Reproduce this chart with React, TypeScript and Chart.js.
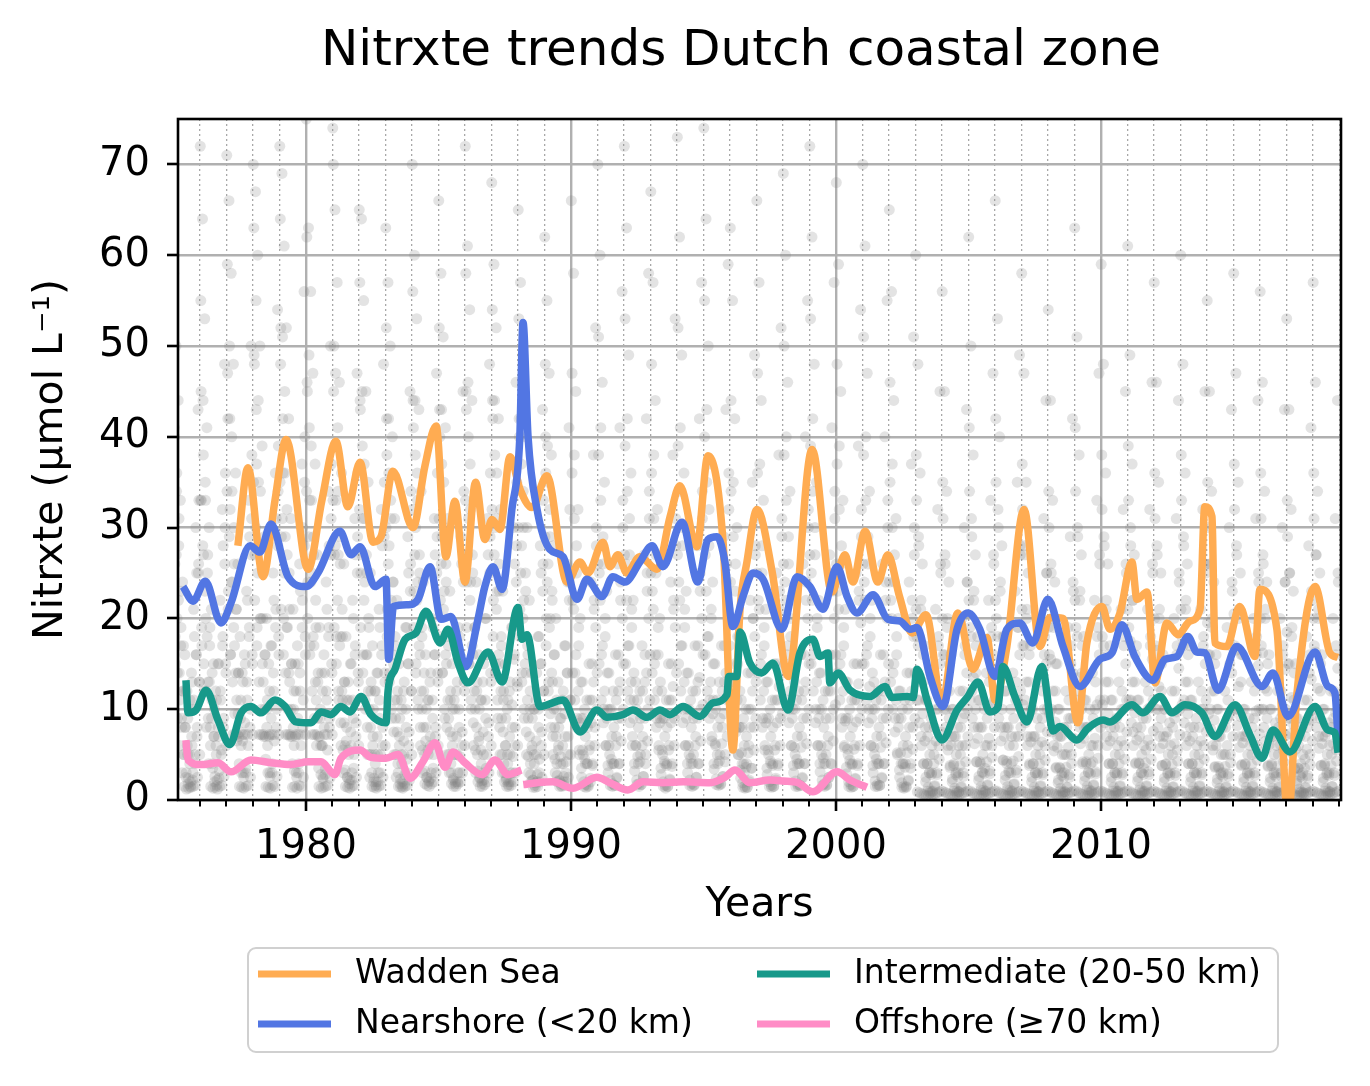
import React, { useEffect, useRef } from "react";
import { Chart, registerables } from "chart.js";

Chart.register(...registerables);

const FONT = "'DejaVu Sans', 'Liberation Sans', sans-serif";
const TITLE = "Nitrxte trends Dutch coastal zone";
const X_LABEL = "Years";
const Y_LABEL = "Nitrxte (µmol L⁻¹)";

const X_MIN = 1975.17;
const X_MAX = 2019.06;
const Y_MIN = 0;
const Y_MAX = 75;
const X_MAJOR_TICKS = [1980, 1990, 2000, 2010];
const X_MINOR_TICKS = [
  1976, 1977, 1978, 1979, 1980, 1981, 1982, 1983, 1984, 1985, 1986, 1987, 1988, 1989,
  1990, 1991, 1992, 1993, 1994, 1995, 1996, 1997, 1998, 1999, 2000, 2001, 2002, 2003,
  2004, 2005, 2006, 2007, 2008, 2009, 2010, 2011, 2012, 2013, 2014, 2015, 2016, 2017,
  2018, 2019,
];
const Y_TICKS = [0, 10, 20, 30, 40, 50, 60, 70];

const SERIES_LABELS = ["Wadden Sea", "Nearshore (<20 km)", "Intermediate (20-50 km)", "Offshore (≥70 km)"];
const SERIES_COLORS = ["#FFAC52", "#5276E3", "#17998A", "#FF8CC6"];

const WADDEN_YEARS = [
  1977.43, 1977.81, 1978.38, 1978.83, 1979.25, 1980.08, 1980.6, 1981.13, 1981.58, 1982.04,
  1982.53, 1982.83, 1983.28, 1984.04, 1984.49, 1984.91, 1985.28, 1985.62, 1986.0, 1986.4,
  1986.75, 1987.02, 1987.32, 1987.7, 1988.08, 1988.53, 1989.09, 1989.85, 1990.34, 1990.64,
  1991.21, 1991.47, 1991.77, 1992.11, 1992.6, 1993.25, 1993.74, 1994.11, 1994.75, 1995.17,
  1995.74, 1996.11, 1996.38, 1996.64, 1997.02, 1997.6, 1998.2, 1999.1, 1999.85, 2000.34,
  2000.64, 2001.1, 2001.58, 2001.96, 2002.4, 2002.87, 2003.4, 2004.0, 2004.6, 2005.17,
  2005.7, 2006.0, 2006.45, 2007.1, 2007.7, 2008.07, 2008.57, 2009.13, 2009.47, 2010.04,
  2010.34, 2010.72, 2011.17, 2011.36, 2011.74, 2012.04, 2012.49, 2012.91, 2013.36, 2013.74,
  2013.92, 2014.19, 2014.3, 2014.75, 2015.24, 2015.81, 2016.0, 2016.64, 2017.06, 2017.4,
  2018.08, 2018.64, 2018.94,
];
const WADDEN_VALUES = [
  28.0, 36.6, 24.6, 33.0, 39.7, 25.4, 33.0, 39.5, 32.3, 37.2,
  28.4, 29.0, 36.2, 30.0, 36.8, 41.2, 26.8, 32.9, 24.0, 35.0,
  28.7, 30.9, 29.8, 37.8, 34.2, 32.2, 35.7, 24.0, 26.2, 25.0,
  28.4, 25.7, 27.0, 25.0, 26.8, 25.4, 31.2, 34.6, 27.9, 37.9,
  28.4, 5.5, 21.0, 26.2, 32.0, 25.0, 13.6, 38.6, 22.9, 27.0,
  24.0, 29.6, 24.0, 27.0, 22.4, 18.4, 20.4, 10.7, 20.6, 14.4,
  17.9, 11.0, 16.9, 32.0, 16.9, 20.1, 20.0, 8.5, 17.3, 21.3,
  18.8, 20.6, 26.2, 22.1, 22.9, 12.9, 19.5, 18.2, 19.7, 21.0,
  32.3, 31.2, 17.3, 16.9, 21.3, 15.8, 23.2, 18.8, -2.0, 11.8,
  23.5, 16.2, 15.7,
];

const NEARSHORE_YEARS = [
  1975.36, 1975.74, 1976.2, 1976.79, 1977.17, 1977.89, 1978.26, 1978.68, 1979.32, 1980.0,
  1980.45, 1981.28, 1981.7, 1982.04, 1982.6, 1983.02, 1983.12, 1983.3, 1983.85, 1984.23,
  1984.68, 1985.1, 1985.47, 1986.04, 1986.49, 1986.75, 1987.06, 1987.4, 1987.77, 1988.07,
  1988.19, 1988.38, 1988.72, 1989.2, 1989.7, 1990.23, 1990.6, 1991.17, 1991.58, 1992.04,
  1992.6, 1993.06, 1993.47, 1994.19, 1994.79, 1995.17, 1995.51, 1995.81, 1996.11, 1996.49,
  1996.87, 1997.25, 1997.96, 1998.53, 1999.02, 1999.51, 2000.04, 2000.42, 2000.79, 2001.4,
  2001.96, 2002.42, 2002.79, 2003.06, 2003.55, 2004.04, 2004.57, 2004.98, 2005.43, 2006.0,
  2006.45, 2006.94, 2007.43, 2008.0, 2008.57, 2009.21, 2009.96, 2010.42, 2010.79, 2011.28,
  2011.96, 2012.42, 2012.87, 2013.28, 2013.62, 2013.92, 2014.42, 2015.13, 2016.08, 2016.49,
  2017.06, 2018.08, 2018.57, 2018.83, 2018.95,
];
const NEARSHORE_VALUES = [
  23.5, 21.9, 24.1, 19.5, 21.7, 28.0, 27.3, 30.4, 24.6, 23.5,
  25.0, 29.6, 27.0, 27.9, 23.5, 24.3, 15.5, 21.3, 21.5, 22.1,
  25.7, 19.9, 20.2, 14.7, 19.9, 23.5, 25.7, 23.2, 32.0, 40.0,
  52.6, 40.0, 32.0, 27.6, 26.8, 22.1, 24.3, 22.4, 24.6, 24.0,
  26.2, 28.0, 25.7, 30.6, 24.0, 28.7, 29.0, 26.2, 19.1, 22.4,
  25.0, 24.3, 18.8, 24.6, 23.5, 21.0, 25.7, 22.4, 20.6, 22.6,
  19.9, 19.7, 18.8, 19.0, 13.6, 10.3, 18.8, 20.6, 18.8, 13.6,
  18.8, 19.5, 17.3, 22.1, 16.9, 12.5, 15.5, 16.2, 19.3, 15.8,
  13.2, 15.5, 15.8, 18.0, 16.3, 16.2, 12.1, 16.9, 12.5, 14.0,
  9.2, 16.3, 12.5, 11.8, 6.6,
];

const INTERMEDIATE_YEARS = [
  1975.47, 1975.55, 1975.85, 1976.23, 1976.68, 1977.13, 1977.55, 1977.92, 1978.3, 1978.83,
  1979.21, 1979.62, 1980.19, 1980.57, 1980.94, 1981.32, 1981.66, 1982.08, 1982.45, 1983.02,
  1983.1, 1983.36, 1983.74, 1984.15, 1984.53, 1985.06, 1985.36, 1985.74, 1986.11, 1986.87,
  1987.4, 1988.0, 1988.15, 1988.34, 1988.83, 1989.7, 1990.34, 1990.98, 1991.36, 1991.96,
  1992.34, 1992.87, 1993.36, 1993.74, 1994.23, 1994.87, 1995.36, 1995.89, 1995.95, 1996.26,
  1996.38, 1996.75, 1997.2, 1997.62, 1998.19, 1998.64, 1999.13, 1999.4, 1999.7, 1999.77,
  2000.08, 2000.53, 2001.28, 2001.85, 2002.11, 2002.68, 2002.91, 2003.06, 2003.47, 2004.0,
  2004.57, 2004.98, 2005.36, 2005.81, 2006.11, 2006.3, 2006.75, 2007.21, 2007.77, 2008.2,
  2008.45, 2009.09, 2009.51, 2010.08, 2010.34, 2011.17, 2011.58, 2012.23, 2012.68, 2013.17,
  2013.81, 2014.3, 2015.06, 2015.62, 2016.08, 2016.49, 2017.13, 2018.08, 2018.57, 2018.83,
  2018.95,
];
const INTERMEDIATE_VALUES = [
  13.2, 9.6, 9.9, 12.1, 8.8, 6.1, 9.6, 10.3, 9.6, 11.0,
  10.3, 8.6, 8.5, 9.7, 9.4, 10.3, 9.7, 11.4, 9.4, 8.5,
  12.1, 14.4, 17.7, 18.4, 20.8, 17.3, 18.8, 15.1, 12.9, 16.3,
  13.0, 21.2, 17.7, 18.2, 10.3, 11.0, 7.5, 9.9, 9.1, 9.4,
  9.9, 9.1, 9.9, 9.4, 10.3, 9.2, 10.7, 11.6, 13.6, 13.6,
  18.5, 15.1, 14.0, 15.1, 9.9, 16.2, 17.7, 15.8, 16.2, 12.9,
  14.0, 12.1, 11.4, 12.5, 11.3, 11.4, 11.3, 14.4, 10.7, 6.6,
  9.9, 11.4, 13.0, 9.7, 10.2, 14.7, 11.4, 8.6, 14.7, 7.6,
  8.1, 6.6, 7.9, 8.8, 8.6, 10.5, 9.6, 11.4, 9.6, 10.5,
  9.6, 7.0, 10.5, 7.2, 4.6, 7.7, 5.3, 10.3, 7.7, 7.4,
  5.2,
];

const OFFSHORE_YEARS = [
  1975.47, 1975.55, 1976.04, 1976.68, 1977.17, 1977.92, 1978.68, 1979.43, 1980.08, 1980.57,
  1981.09, 1981.32, 1982.04, 1982.45, 1983.02, 1983.47, 1983.93, 1984.41, 1984.87, 1985.25,
  1985.55, 1986.0, 1986.64, 1987.13, 1987.62, 1988.13, 1988.16, 1988.2, 1988.72, 1989.32,
  1990.08, 1990.98, 1991.47, 1992.15, 1992.72, 1993.47, 1994.23, 1995.25, 1995.81, 1996.19,
  1996.75, 1997.51, 1998.0, 1998.57, 1999.13, 2000.04, 2000.53, 2001.17,
];
const OFFSHORE_VALUES = [
  6.6, 4.4, 3.9, 4.1, 3.1, 4.4, 4.1, 3.9, 4.2, 4.2,
  2.8, 4.6, 5.5, 4.7, 4.6, 5.0, 2.4, 4.2, 6.3, 3.6,
  5.3, 4.1, 2.8, 4.4, 2.8, 3.3, null, 1.7, 1.9, 2.0,
  1.3, 2.5, 1.9, 1.1, 2.0, 1.9, 2.0, 1.9, 2.5, 3.3,
  1.9, 2.2, 2.1, 1.9, 0.9, 3.1, 2.2, 1.4,
];

// Individual observations, listed per year in sampling order (January first)
const SCATTER_YEARS = [
  1975, 1976, 1977, 1978, 1979, 1980, 1981, 1982, 1983, 1984, 1985, 1986, 1987, 1988, 1989,
  1990, 1991, 1992, 1993, 1994, 1995, 1996, 1997, 1998, 1999, 2000, 2001, 2002,
  2003, 2004, 2005, 2006, 2007, 2008, 2009, 2010, 2011, 2012, 2013, 2014, 2015, 2016, 2017, 2018,
];
const SCATTER_VALUES = [
  "58 41 26 15 50 34 20 9 44 28 14 6 33 19 9 3 24 12 5 1.5 16 8 2.5 1.2 12 5 1.8 1.3 10 4 1.5 1.4 14 6 2.2 1.5 21 10 4 1.6 30 16 7 2.5 43 26 13 5",
  "72 55 33 17 64 44 27 12 53 35 20 8 41 25 13 4 30 17 8 1.5 21 11 4 1.3 15 7 2 1.4 12 5 1.6 1.2 15 7 2.4 1.5 22 11 5 1.6 32 18 8 2.6 48 30 15 6",
  "71 59 42 23 66 50 32 16 58 40 24 7.2 48 30 17 7.2 36 21 11 7.2 26 14 7 1.5 18 9 6 1.4 14 7.2 3 1.3 16 7.2 3 1.5 23 11 7.2 1.6 33 19 8 2.5 50 31 16 7.2",
  "70 63 48 27 67 55 37 19 60 44 28 7.2 50 34 20 7.2 39 25 13 7.2 29 16 7 1.5 20 10 6 1.4 15 7.2 3 1.3 17 7.2 3 1.6 25 12 7.2 1.5 36 21 8 2.6 54 34 18 7.2",
  "72 64 52 29 69 51 36 20 61 45 29 7.2 52 32 19 7.2 42 25 13 7.2 31 15 7 1.4 21 10 6 1.5 15 7.2 3 1.3 17 7.2 3 1.6 26 12 7.2 1.5 37 22 8 2.5 56 35 18 7.2",
  "75 62 45 24 63 49 33 17 56 39 25 7.2 47 29 17 7.2 37 22 11 7.2 27 13 7 1.5 19 9 6 1.3 14 6 2.5 1.4 16 7.2 2.8 1.5 24 11 7.2 1.6 34 19 8 2.4 50 31 15 7.2",
  "74 70 50 27 65 47 33 18 57 41 27 11 46 29 18 6 36 21 11 3 26 13 6 1.5 18 8 2.5 1.4 13 5 1.8 1.3 15 6 2.2 1.5 22 9 3.5 1.6 31 17 7 2.5 47 29 14 6",
  "65 57 43 25 64 45 31 16 55 37 24 10 45 27 16 5 35 20 10 2.5 25 12 5 1.5 17 7 2 1.4 12 4 1.6 1.3 14 5 2 1.5 21 9 3 1.6 32 17 6 2.5 48 29 14 6",
  "63 52 38 21 57 42 28 14 50 33 22 9 40 24 15 5 31 18 9 2.5 22 11 4 1.5 15 7 1.8 1.4 11 4 1.5 1.3 12 5 1.8 1.5 19 8 3 1.6 29 15 6 2.2 45 26 12 5",
  "70 56 41 23 60 44 30 15 53 36 24 10 43 27 16 6 34 19 10 3 24 12 5 1.8 16 8 2.5 1.6 11 5 2 1.5 13 6 2.4 1.8 20 9 3.5 2 31 16 7 3 47 29 14 6",
  "66 52 40 22 58 43 29 14 51 35 23 9 41 26 15 5 31 18 9 3 23 11 4 1.8 15 7 2.2 1.5 11 5 1.8 1.5 12 5 2 1.8 19 8 3 2 29 15 6 3 45 27 13 6",
  "72 58 43 24 61 46 31 15 54 37 24 10 44 27 16 6 33 19 10 3 24 12 5 2 16 7 2.4 1.5 11 4 1.8 1.5 13 5 2.2 1.7 20 9 3.5 2 31 16 7 3 48 29 14 6",
  "68 54 42 22 59 44 30 15 52 36 23 9 42 26 15 5 32 18 9 3 23 11 4 2 15 6 2.2 1.5 10 4 1.7 1.5 12 5 2 1.6 19 8 3 2 30 16 6 3 46 28 13 6",
  "65 53 40 21 57 42 28 14 49 34 22 9 40 25 14 5 30 17 9 3 22 10 4 2 14 6 2.2 1.4 10 4 1.6 1.4 11 5 2 1.5 18 8 3 2 28 15 6 2.5 43 26 12 5",
  "62 48 36 20 55 39 26 13 47 32 20 8 38 23 13 5 28 16 8 3 20 10 4 2 13 6 2.2 1.5 9 4 1.6 1.5 11 4 2 1.6 17 7 3 2 26 14 5 2.5 41 24 11 5",
  "66 47 22 58 38 14 45 28 9 32 17 5 20 9 2.5 13 5 1.5 10 4 1.4 11 4 1.5 15 6 2 24 11 4 38 22 8 52 30 14",
  "70 51 25 60 41 16 46 29 10 35 18 6 23 10 3 14 5 1.6 10 4 1.5 12 4 1.6 16 7 2.4 26 12 4 41 24 9 56 33 15",
  "72 53 26 63 42 17 49 31 11 36 19 7 22 11 3.2 13 6 1.7 11 4 1.5 12 5 1.7 17 7 2.6 27 13 5 42 25 10 58 34 16",
  "67 48 23 57 38 15 44 27 9 32 16 6 20 9 2.8 12 5 1.5 9 4 1.3 11 4 1.5 15 6 2.2 24 11 4 38 22 9 53 31 14",
  "73 52 24 62 41 17 49 30 10 36 19 6 23 10 3 14 5 1.6 11 4 1.5 12 5 1.7 17 7 2.5 28 13 4 42 25 10 57 34 16",
  "74 55 27 64 43 18 50 32 11 37 20 7 24 11 3.4 15 6 1.7 11 4 1.6 13 5 1.8 17 8 2.6 29 13 5 43 26 11 59 36 17",
  "63 44 20 55 35 13 42 26 8 30 15 5 18 8 2.4 11 4 1.4 9 3 1.3 10 4 1.4 14 6 2 22 10 3.5 35 20 8 49 28 13",
  "66 47 22 57 37 15 44 28 9 33 17 6 21 9 2.8 13 5 1.5 10 4 1.4 11 4 1.5 15 6 2.2 25 11 4 38 23 9 52 31 14",
  "69 50 24 60 40 16 46 29 10 34 18 6 22 10 3 13 5 1.5 11 4 1.5 12 4 1.6 16 7 2.4 26 12 4 40 24 9 55 32 15",
  "72 53 25 62 42 16 48 30 10 35 19 6 22 10 3.1 14 5 1.6 11 4 1.5 12 5 1.7 16 7 2.5 27 12 4 41 25 10 57 34 16",
  "68 48 23 59 39 15 45 28 9 33 17 6 21 9 2.9 13 5 1.5 10 4 1.4 11 4 1.5 15 6 2.3 25 11 4 39 23 9 54 32 15",
  "70 51 24 61 40 16 47 29 10 34 18 6 22 10 3 13 5 1.5 11 4 1.5 12 4 1.6 16 7 2.4 26 12 4 40 24 9 55 33 15",
  "65 46 22 56 37 14 44 27 9 31 16 5 20 9 2.5 12 4 1.4 10 4 1.3 11 4 1.5 14 6 2.1 24 11 4 37 22 8 51 30 14",
  "60 38 18 0.9 48 29 11 0.8 36 21 7 0.7 26 13 4 0.6 17 8 2 0.5 11 4 1 0.5 8 3 0.8 0.5 9 3 0.9 0.6 13 5 1.5 0.7 21 10 3 0.8 32 17 6 0.9 45 26 11 1",
  "56 35 16 0.9 45 27 10 0.8 34 19 6 0.7 24 12 3.6 0.6 16 7 2 0.5 10 4 1 0.5 7 3 0.8 0.5 8 3 0.9 0.6 12 5 1.4 0.7 20 9 3 0.8 30 16 6 0.9 43 24 10 1",
  "62 41 19 1 50 31 12 0.8 38 22 8 0.7 27 14 4.2 0.6 18 8 2.2 0.5 11 4 1.1 0.5 8 3 0.8 0.5 10 3.5 0.9 0.6 14 6 1.6 0.7 22 10 3.2 0.8 33 18 6 0.9 47 27 11 1",
  "66 42 20 1 53 32 12 0.8 40 23 8 0.7 28 14 4.4 0.6 18 8 2.2 0.5 12 4 1.1 0.5 8 3 0.8 0.5 10 4 0.9 0.6 14 6 1.7 0.7 23 11 3.3 0.8 35 19 7 0.9 49 28 12 1",
  "58 37 17 0.9 47 28 11 0.8 35 20 7 0.7 25 13 3.8 0.6 17 7 2 0.5 10 4 1 0.5 7 3 0.8 0.5 9 3 0.9 0.6 13 5 1.5 0.7 20 9 3 0.8 31 16 6 0.9 44 25 10 1",
  "54 34 16 0.9 44 26 10 0.8 33 19 6 0.7 24 12 3.5 0.6 15 7 1.9 0.5 10 3.5 1 0.5 7 3 0.8 0.5 8 3 0.9 0.6 12 5 1.4 0.7 19 9 2.8 0.8 29 15 5 0.9 42 24 9 1",
  "63 41 19 1 51 30 12 0.8 38 22 8 0.7 27 14 4 0.6 18 8 2.1 0.5 11 4 1.1 0.5 8 3 0.8 0.5 10 4 0.9 0.6 14 6 1.6 0.7 22 10 3.1 0.8 33 18 6 0.9 47 27 11 1",
  "59 38 18 0.9 48 29 11 0.8 36 21 7 0.7 26 13 4 0.6 17 8 2 0.5 11 4 1 0.5 8 3 0.8 0.5 9 3 0.9 0.6 13 5 1.5 0.7 21 10 3 0.8 32 17 6 0.9 45 26 11 1",
  "61 39 19 1 49 30 11 0.8 37 22 7.5 0.7 27 13 4 0.6 17 8 2.1 0.5 11 4 1.1 0.5 8 3 0.8 0.5 9 3.5 0.9 0.6 13 5.5 1.5 0.7 21 10 3.1 0.8 32 17 6 0.9 46 26 11 1",
  "57 36 17 0.9 46 28 10 0.8 35 20 7 0.7 25 12 3.8 0.6 16 7 2 0.5 10 4 1 0.5 7.5 3 0.8 0.5 8.5 3 0.9 0.6 12 5 1.4 0.7 20 9 3 0.8 31 16 5.5 0.9 44 25 10 1",
  "60 38 18 1 48 29 11 0.8 36 21 7 0.7 26 13 4 0.6 17 8 2 0.5 11 4 1 0.5 8 3 0.8 0.5 9 3 0.9 0.6 13 5 1.5 0.7 21 10 3 0.8 32 17 6 0.9 45 26 11 1",
  "55 35 16 0.9 45 26 10 0.8 34 19 6 0.7 24 12 3.6 0.6 16 7 1.9 0.5 10 3.5 1 0.5 7 3 0.8 0.5 8 3 0.9 0.6 12 5 1.4 0.7 19 9 2.9 0.8 30 15 5 0.9 43 24 10 1",
  "58 37 17 0.9 47 28 10 0.8 35 20 7 0.7 25 13 3.8 0.6 16 7 2 0.5 10 4 1 0.5 7.5 3 0.8 0.5 9 3 0.9 0.6 13 5 1.5 0.7 20 9 3 0.8 31 16 6 0.9 44 25 10 1",
  "56 36 17 0.9 46 27 10 0.8 34 20 6.5 0.7 24 12 3.7 0.6 16 7 2 0.5 10 4 1 0.5 7 3 0.8 0.5 8.5 3 0.9 0.6 12 5 1.4 0.7 20 9 3 0.8 30 16 5.5 0.9 43 24 10 1",
  "53 33 15 0.9 43 25 9 0.8 32 18 6 0.7 23 11 3.4 0.6 15 6.5 1.8 0.5 9 3.5 0.9 0.5 7 2.8 0.8 0.5 8 3 0.8 0.6 11 4.5 1.3 0.7 18 8 2.7 0.8 28 14 5 0.9 41 23 9 1",
  "57 36 17 0.9 46 27 10 0.8 34 20 7 0.7 25 12 3.8 0.6 16 7 2 0.5 10 4 1 0.5 7.5 3 0.8 0.5 8.5 3 0.9 0.6 12 5 1.5 0.7 20 9 3 0.8 31 16 5.5 0.9 44 25 10 1",
];
// A second, mid-range station set (one value per month, January first)
const SCATTER_EXTRA_VALUES = [
  "40 36 31 23 17 12 9 11 13 18 25 33",
  "45 38 33 27 19 14 10 11 15 20 28 36",
  "47 42 34 26 21 14 11 13 15 22 29 38",
  "49 43 35 28 20 16 11 12 17 22 31 39",
  "48 42 36 27 21 15 12 12 15 23 30 40",
  "46 41 33 27 19 14 10 12 14 21 28 37",
  "45 39 34 26 18 13 11 11 15 20 27 36",
  "44 39 31 25 19 13 10 12 14 19 28 35",
  "42 36 31 24 17 12 9 10 13 19 25 34",
  "44 38 33 25 18 14 10 11 14 19 27 36",
  "43 37 30 24 17 12 10 10 13 18 26 34",
  "45 40 32 25 19 13 10 11 15 20 27 36",
  "44 38 31 23 17 12 9 11 13 19 26 35",
  "42 37 30 23 16 12 9 10 14 18 25 33",
  "40 35 29 22 16 11 8 9 12 17 24 32",
  "36 31 25 19 13 9 7 8 11 15 21 28",
  "38 33 26 20 14 10 7 8 11 16 22 30",
  "39 34 27 21 14 10 8 9 12 16 23 31",
  "36 31 25 19 13 9 7 8 11 15 21 28",
  "39 34 28 21 14 10 8 9 12 17 23 31",
  "40 35 28 21 15 10 8 9 12 17 24 32",
  "34 29 23 18 12 8 6 7 10 14 20 27",
  "36 31 25 19 13 9 7 8 11 15 21 29",
  "38 33 26 20 14 10 7 8 11 16 22 30",
  "39 34 27 20 14 10 8 9 12 16 23 31",
  "37 32 26 19 13 9 7 8 11 15 22 29",
  "38 33 26 20 14 10 7 8 11 16 22 30",
  "35 30 24 18 12 9 6 7 10 14 20 27",
  "33 28 22 16 11 7 5 6 8 12 18 25",
  "31 26 20 15 10 7 5 6 8 12 17 24",
  "34 29 23 17 11 8 5 6 9 13 19 26",
  "35 30 24 18 12 8 6 7 9 13 19 27",
  "32 27 21 16 10 7 5 6 8 12 18 25",
  "30 25 20 15 10 7 5 5 8 11 17 23",
  "34 29 23 17 11 8 5 6 9 13 19 26",
  "32 28 22 16 11 7 5 6 8 12 18 25",
  "33 28 22 16 11 7 5 6 9 12 18 25",
  "31 27 21 15 10 7 5 6 8 12 17 24",
  "33 28 22 16 11 7 5 6 8 12 18 25",
  "30 26 20 15 10 7 5 5 8 11 17 23",
  "32 27 21 16 10 7 5 6 8 12 18 24",
  "31 26 21 15 10 7 5 6 8 12 17 24",
  "29 25 19 14 9 6 4 5 7 11 16 22",
  "31 27 21 15 10 7 5 6 8 12 17 24",
];
// A third, coastal low-range station set (two values per month, January first)
const SCATTER_LOW_VALUES = [
  "31 18 27 14 22 11 17 8 12 5 8 3 6 2.4 5 2 7 3 11 5 16 8 25 13",
  "33 19 28 15 23 12 18 9 13 6 9 3.5 7 2.6 6 2.2 8 3.2 12 5.5 17 9 26 14",
  "34 21 29 16 24 13 19 9.5 14 6.5 9.5 4 7.5 3 6.5 2.5 8.5 3.5 13 6 18 10 27 15",
  "35 22 30 17 25 13 20 10 15 7 10 4.5 8 3 7 2.6 9 4 14 6.5 19 10 28 16",
  "35 21 31 16 25 14 19 10 14 7 10 4 8 3.2 7 2.5 9 4 14 6 19 11 28 16",
  "34 20 29 16 24 12 18 9 13 6 9 3.5 7 2.8 6 2.3 8 3.4 12 5.5 18 9 27 14",
  "33 19 28 15 22 12 17 8.5 12 5.5 8.5 3.3 6.5 2.5 5.5 2.2 7.5 3 11 5 16 8.5 25 13",
  "32 19 27 14 22 11 16 8 12 5 8 3 6 2.4 5 2 7 3 11 5 16 8 24 13",
  "30 18 26 13 21 10 16 7.5 11 5 7.5 3 6 2.3 5 2 6.5 2.8 10 4.5 15 7.5 23 12",
  "32 19 27 14 22 11 17 8 12 5.5 8 3.2 6.5 2.5 5.5 2.1 7 3 11 5 16 8 25 13",
  "31 18 26 14 21 10 16 8 11 5 7.5 3 6 2.4 5 2 7 3 10 4.8 15 7.5 24 12",
  "33 19 27 15 22 11 17 8.5 12 5.5 8 3.2 6.5 2.5 5.5 2.1 7.5 3 11 5 16 8.5 25 13",
  "32 18 27 14 21 11 16 8 12 5 7.5 3 6 2.4 5 2 7 3 10.5 4.8 15.5 8 24 12.5",
  "30 18 25 13 20 10 15 7.5 11 4.8 7 2.8 5.5 2.2 5 1.9 6.5 2.8 10 4.5 15 7.5 23 12",
  "29 17 24 12 19 9.5 14 7 10 4.5 7 2.7 5.5 2.1 4.8 1.8 6 2.6 9.5 4.2 14 7 22 11",
  "25 14 21 11 16 8 12 5.5 8.5 3.5 5.5 2 4.5 1.7 4 1.6 5.5 2.4 8.5 3.8 13 6 19 10",
  "26 15 22 11 17 8.5 12 6 9 3.8 6 2.2 4.5 1.8 4 1.6 6 2.5 9 4 13 6.5 20 10",
  "27 15 22 12 17 8.5 13 6 9 4 6 2.2 4.8 1.8 4.2 1.7 6 2.6 9 4 14 6.5 20 11",
  "25 14 21 11 16 8 12 5.5 8.5 3.5 5.5 2 4.3 1.6 3.8 1.5 5.5 2.3 8.5 3.7 12.5 6 19 9.5",
  "27 15 22 12 17 8.5 13 6 9 4 6 2.2 4.6 1.8 4 1.6 6 2.5 9 4 13.5 6.5 20 10.5",
  "28 16 23 12 18 9 13 6.5 9.5 4 6.2 2.3 5 1.9 4.3 1.7 6.2 2.6 9.5 4.2 14 7 21 11",
  "24 13 20 10 15 7.5 11 5 8 3.3 5.2 1.9 4 1.5 3.6 1.4 5.2 2.2 8 3.5 12 5.5 18 9",
  "25 14 21 11 16 8 12 5.5 8.5 3.5 5.5 2 4.3 1.6 3.8 1.5 5.5 2.4 8.5 3.8 12.5 6 19 9.5",
  "26 15 22 11 17 8.5 12 6 9 3.8 5.8 2.1 4.5 1.7 4 1.6 5.8 2.5 9 4 13 6.2 20 10",
  "27 15 22 12 17 8.5 13 6 9 4 6 2.2 4.6 1.8 4 1.6 6 2.5 9 4 13.5 6.5 20 10.5",
  "26 14 21 11 16 8 12 5.8 8.7 3.6 5.6 2 4.4 1.7 3.9 1.5 5.6 2.4 8.6 3.8 12.8 6 19.5 10",
  "26 15 22 11 17 8.5 12.5 6 9 3.8 5.8 2.1 4.5 1.7 4 1.6 5.8 2.5 9 4 13 6.3 20 10",
  "24 13 20 10 15 7.5 11 5.2 8 3.3 5.2 1.9 4 1.5 3.6 1.4 5.2 2.2 8 3.5 12 5.6 18 9",
  "21 11 17 8.5 13 6 9.5 4 6.5 2.5 4 1.4 3 1 2.8 1 4 1.6 6.5 2.8 10 4.5 15 7.5",
  "20 10 16 8 12 5.5 9 3.8 6 2.3 3.8 1.3 2.8 1 2.6 0.9 3.8 1.5 6 2.6 9.5 4.2 14 7",
  "22 11 18 9 13.5 6.2 10 4.2 6.8 2.6 4.2 1.5 3.1 1.1 2.9 1 4.2 1.7 6.8 2.9 10.5 4.7 16 8",
  "22 12 18 9 14 6.5 10 4.4 7 2.7 4.3 1.5 3.2 1.1 3 1 4.3 1.8 7 3 11 4.8 16 8",
  "21 10.5 17 8.5 13 6 9.5 4 6.4 2.5 4 1.4 3 1 2.8 0.9 4 1.6 6.4 2.8 10 4.4 15 7.5",
  "19 9.5 15.5 7.5 12 5.4 8.6 3.6 5.8 2.2 3.6 1.3 2.7 0.9 2.5 0.9 3.6 1.4 5.8 2.5 9 4 14 6.8",
  "22 11 18 9 13.5 6.2 10 4.2 6.8 2.6 4.2 1.5 3.1 1.1 2.9 1 4.2 1.7 6.8 2.9 10.5 4.6 16 8",
  "21 10.5 17 8.5 13 6 9.5 4 6.5 2.5 4 1.4 3 1 2.8 1 4 1.6 6.5 2.8 10 4.5 15 7.5",
  "21 11 17.5 8.5 13 6 9.6 4.1 6.6 2.5 4.1 1.4 3 1 2.8 1 4.1 1.6 6.6 2.8 10.2 4.5 15.5 7.6",
  "20 10 16.5 8 12.5 5.7 9 3.8 6.2 2.4 3.9 1.3 2.9 1 2.7 0.9 3.9 1.5 6.2 2.7 9.7 4.3 14.5 7.2",
  "21 10.5 17 8.5 13 6 9.5 4 6.5 2.5 4 1.4 3 1 2.8 1 4 1.6 6.5 2.8 10 4.5 15 7.5",
  "19.5 9.5 16 7.8 12 5.5 8.8 3.7 6 2.3 3.7 1.3 2.8 0.9 2.6 0.9 3.7 1.5 6 2.6 9.3 4.1 14 7",
  "20.5 10 16.5 8.2 12.5 5.8 9.2 3.9 6.3 2.4 3.9 1.4 2.9 1 2.7 0.9 3.9 1.6 6.3 2.7 9.8 4.4 14.8 7.3",
  "20 10 16.2 8 12.3 5.6 9 3.8 6.1 2.4 3.8 1.3 2.8 1 2.6 0.9 3.8 1.5 6.1 2.6 9.5 4.2 14.4 7.1",
  "18.5 9 15 7.3 11.3 5.1 8.3 3.5 5.6 2.1 3.5 1.2 2.6 0.9 2.4 0.8 3.5 1.4 5.6 2.4 8.8 3.9 13.3 6.5",
  "20 10 16.3 8 12.3 5.7 9 3.8 6.2 2.4 3.8 1.3 2.8 1 2.7 0.9 3.8 1.5 6.2 2.7 9.6 4.3 14.5 7.2",
];

function toPoints(xs: number[], ys: (number | null)[]) {
  return xs.map((x, i) => ({ x, y: ys[i] }));
}

function buildScatter() {
  const pts: { x: number; y: number }[] = [];
  [SCATTER_VALUES, SCATTER_EXTRA_VALUES, SCATTER_LOW_VALUES].forEach((table) => {
    SCATTER_YEARS.forEach((yr, k) => {
      const vals = table[k].trim().split(/\s+/).map(Number);
      vals.forEach((v, i) => pts.push({ x: yr + (i + 0.5) / vals.length, y: v }));
    });
  });
  return pts;
}

const isMajor = (v: number) => X_MAJOR_TICKS.includes(v);

const decorPlugin = {
  id: "decor",
  afterDraw(chart: any) {
    const { ctx, chartArea: a, scales } = chart;
    const x = scales.x;
    const y = scales.y;
    ctx.save();
    // title, centred over the plotting area
    ctx.fillStyle = "#000";
    ctx.font = `50px ${FONT}`;
    ctx.textAlign = "center";
    ctx.textBaseline = "middle";
    ctx.fillText(TITLE, 741, 52);

    ctx.strokeStyle = "#000";
    ctx.lineCap = "butt";
    X_MINOR_TICKS.forEach((t) => {
      const px = Math.round(x.getPixelForValue(t));
      const major = isMajor(t);
      ctx.lineWidth = major ? 2.6 : 2;
      ctx.beginPath();
      ctx.moveTo(px, a.bottom);
      ctx.lineTo(px, a.bottom + (major ? 11 : 6.5));
      ctx.stroke();
    });
    Y_TICKS.forEach((t) => {
      const py = Math.round(y.getPixelForValue(t));
      ctx.lineWidth = 2.6;
      ctx.beginPath();
      ctx.moveTo(a.left, py);
      ctx.lineTo(a.left - 11, py);
      ctx.stroke();
    });
    ctx.lineWidth = 2.6;
    ctx.strokeRect(a.left, a.top, a.right - a.left, a.bottom - a.top);

    // legend (two columns, column-major order)
    const bx = 248, by = 948, bw = 1030, bh = 104;
    ctx.beginPath();
    ctx.roundRect(bx, by, bw, bh, 8);
    ctx.fillStyle = "rgba(255,255,255,0.8)";
    ctx.fill();
    ctx.lineWidth = 2;
    ctx.strokeStyle = "#d0d0d0";
    ctx.stroke();
    const colX = [258, 757];
    const rowY = [974, 1024];
    ctx.font = `33px ${FONT}`;
    ctx.textBaseline = "middle";
    ctx.textAlign = "left";
    SERIES_LABELS.forEach((label, i) => {
      const col = Math.floor(i / 2);
      const row = i % 2;
      ctx.strokeStyle = SERIES_COLORS[i];
      ctx.lineWidth = 7;
      ctx.beginPath();
      ctx.moveTo(colX[col], rowY[row]);
      ctx.lineTo(colX[col] + 73, rowY[row]);
      ctx.stroke();
      ctx.fillStyle = "#000";
      ctx.fillText(label, colX[col] + 97, rowY[row]);
    });
    ctx.restore();
  },
};

export default function App() {
  const ref = useRef<HTMLCanvasElement | null>(null);

  useEffect(() => {
    document.body.style.margin = "0";
    const canvas = ref.current;
    if (!canvas) return;
    const lineDs = (i: number, xs: number[], ys: (number | null)[], order: number) => ({
      type: "line" as const,
      label: SERIES_LABELS[i],
      data: toPoints(xs, ys),
      borderColor: SERIES_COLORS[i],
      backgroundColor: SERIES_COLORS[i],
      borderWidth: 7.5,
      pointRadius: 0,
      pointHoverRadius: 0,
      fill: false,
      cubicInterpolationMode: "monotone" as const,
      spanGaps: false,
      clip: 0,
      order,
    });
    const chart = new Chart(canvas, {
      type: "line",
      data: {
        datasets: [
          {
            type: "scatter",
            label: "Observations",
            data: buildScatter(),
            backgroundColor: "rgba(128,128,128,0.22)",
            borderColor: "rgba(0,0,0,0)",
            borderWidth: 0,
            pointRadius: 5.5,
            pointHoverRadius: 5.5,
            clip: 0,
            order: 10,
          } as any,
          lineDs(0, WADDEN_YEARS, WADDEN_VALUES, 4),
          lineDs(1, NEARSHORE_YEARS, NEARSHORE_VALUES, 3),
          lineDs(2, INTERMEDIATE_YEARS, INTERMEDIATE_VALUES, 2),
          lineDs(3, OFFSHORE_YEARS, OFFSHORE_VALUES, 1),
        ],
      },
      options: {
        animation: false,
        responsive: false,
        devicePixelRatio: 1,
        events: [],
        layout: { padding: { left: 0, right: 29, top: 119, bottom: 151 } },
        plugins: {
          legend: { display: false },
          tooltip: { enabled: false },
          title: { display: false },
        },
        scales: {
          x: {
            type: "linear",
            min: X_MIN,
            max: X_MAX,
            afterBuildTicks: (s: any) => {
              s.ticks = X_MINOR_TICKS.map((v) => ({ value: v }));
            },
            afterFit: (s: any) => {
              s.height = 135;
            },
            ticks: {
              autoSkip: false,
              maxRotation: 0,
              color: "#000",
              padding: 24,
              font: { family: FONT, size: 40 },
              callback: (v: any) => (isMajor(Number(v)) ? String(v) : ""),
            },
            grid: {
              drawTicks: false,
              color: (c: any) => (c.tick && isMajor(c.tick.value) ? "#b0b0b0" : "#a8a8a8"),
              lineWidth: (c: any) => (c.tick && isMajor(c.tick.value) ? 2.4 : 1.3),
            },
            border: {
              display: false,
              dash: (c: any) => (c.tick && !isMajor(c.tick.value) ? [2, 3] : []),
            },
            title: {
              display: true,
              text: X_LABEL,
              color: "#000",
              font: { family: FONT, size: 41, lineHeight: 1.2 },
              padding: { top: 4, bottom: 5 },
            },
          },
          y: {
            type: "linear",
            min: Y_MIN,
            max: Y_MAX,
            afterBuildTicks: (s: any) => {
              s.ticks = Y_TICKS.map((v) => ({ value: v }));
            },
            afterFit: (s: any) => {
              s.width = 178;
            },
            ticks: {
              color: "#000",
              padding: 28,
              font: { family: FONT, size: 40 },
            },
            grid: { drawTicks: false, color: "#b0b0b0", lineWidth: 2.4 },
            border: { display: false },
            title: {
              display: true,
              text: Y_LABEL,
              color: "#000",
              font: { family: FONT, size: 41, lineHeight: 1.2 },
              padding: { top: 27, bottom: 0 },
            },
          },
        },
      },
      plugins: [decorPlugin],
    } as any);
    return () => chart.destroy();
  }, []);

  return (
    <div style={{ width: 1370, height: 1086, background: "#fff" }}>
      <canvas ref={ref} width={1370} height={1086} style={{ display: "block" }} />
    </div>
  );
}
